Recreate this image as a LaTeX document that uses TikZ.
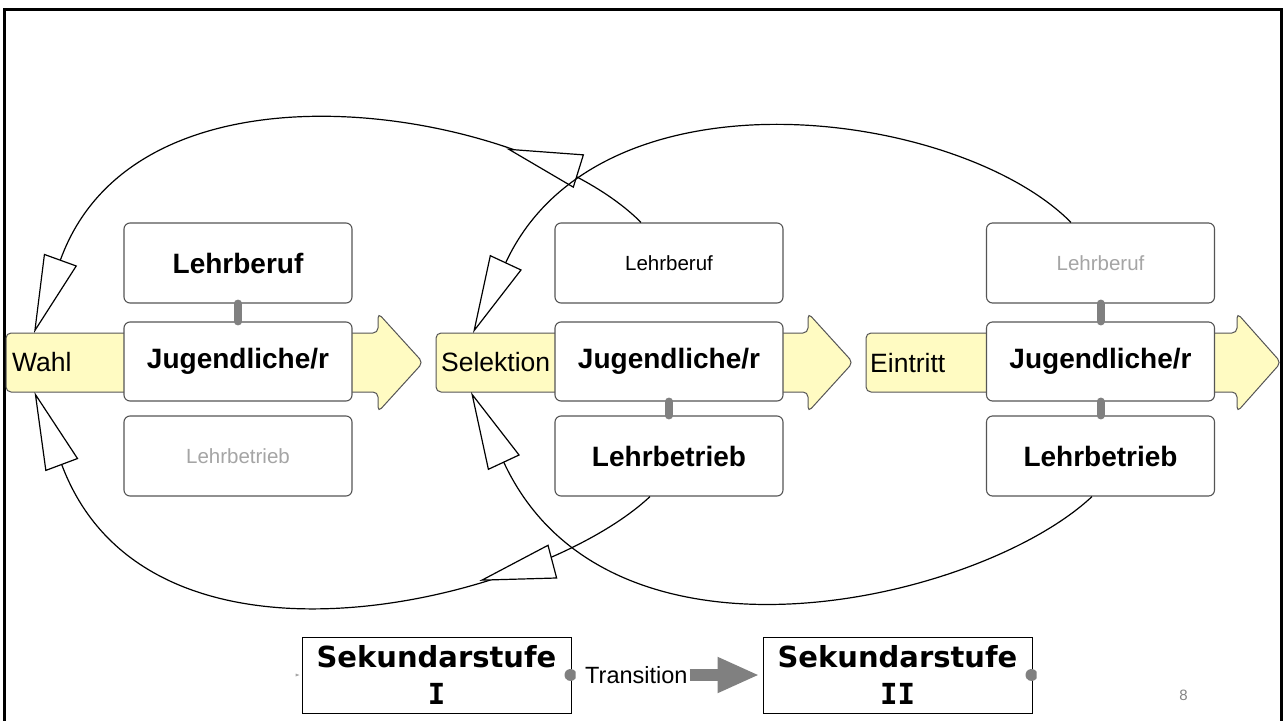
\documentclass[tikz,border=0pt]{standalone}
\usepackage{fontspec}
\setmainfont{Liberation Sans}
\newfontfamily\dvsans{DejaVu Sans}
\newfontfamily\dvmono{DejaVu Sans Mono}
\usetikzlibrary{arrows.meta,decorations.markings,calc}
\definecolor{yel}{RGB}{255,251,194}
\definecolor{bord}{RGB}{85,85,85}
\definecolor{ltxt}{RGB}{165,165,165}
\definecolor{bargray}{RGB}{128,128,128}
\begin{document}
\begin{tikzpicture}[x=1pt,y=-1pt,
  box/.style={draw=bord, line width=1.1pt, rounded corners=6pt, fill=white,
    minimum width=228pt, minimum height=80pt, inner sep=0pt},
  big/.style={font=\fontsize{28}{32}\selectfont\bfseries},
  small/.style={font=\fontsize{20.5}{24}\selectfont},
  faint/.style={small, text=ltxt},
  yarr/.style={draw=bord, line width=1pt, fill=yel, rounded corners=5pt},
  ylbl/.style={font=\fontsize{26.5}{30}\selectfont, anchor=west, inner sep=0pt},
  link/.style={draw=bargray, line width=8pt, line cap=round},
  loopline/.style={draw=black, line width=1.2pt},
  tri/.style={-{Triangle[fill=white, length=78pt, width=35pt]}},
  midarrow/.style={postaction={decorate}, decoration={markings,
    mark=at position #1 with {\arrow{Triangle[fill=white, length=76pt, width=35pt]}}}},
  sek/.style={draw=black, line width=1pt, minimum width=269pt, minimum height=76pt,
    inner sep=0pt, align=center, font=\dvsans\fontsize{29}{37}\selectfont\bfseries},
]
\useasboundingbox (0,0) rectangle (1284,720);
\fill[white] (0,0) rectangle (1284,720);

% frame
\draw[line width=2.5pt] (4.5,730) -- (4.5,9.5) -- (1281.5,9.5) -- (1281.5,730);

% yellow arrows
\draw[yarr] (6,333) -- (378,333) -- (378,313) -- (423,362.5) -- (378,412) -- (378,392) -- (6,392) -- cycle;
\draw[yarr] (436,333) -- (808,333) -- (808,313) -- (853,362.5) -- (808,412) -- (808,392) -- (436,392) -- cycle;
\draw[yarr] (866,333) -- (1237,333) -- (1237,313) -- (1281,362.5) -- (1237,412) -- (1237,392) -- (866,392) -- cycle;

\node[ylbl] (wahl) at (12,362.5) {Wahl};
\node[ylbl] (sel) at (441,362.5) {Selektion};
\node[ylbl] (ein) at (870,362.5) {Eintritt};

% boxes
\node[box, big] (lb1) at (238,263) {Lehrberuf};
\node[box, big, minimum height=79pt] (jd1) at (238,361.5) {Jugendliche/r};
\node[box, faint] (lt1) at (238,456) {Lehrbetrieb};
\node[box, small] (lb2) at (669,263) {Lehrberuf};
\node[box, big, minimum height=79pt] (jd2) at (669,361.5) {Jugendliche/r};
\node[box, big] (lt2) at (669,456) {Lehrbetrieb};
\node[box, faint] (lb3) at (1100.5,263) {Lehrberuf};
\node[box, big, minimum height=79pt] (jd3) at (1100.5,361.5) {Jugendliche/r};
\node[box, big] (lt3) at (1100.5,456) {Lehrbetrieb};

% links
\draw[link] (lb1.south) -- (jd1.north);
\draw[link] (jd2.south) -- (lt2.north);
\draw[link] (lb3.south) -- (jd3.north);
\draw[link] (jd3.south) -- (lt3.north);

% loop end points
\coordinate (wahlN) at (34,333);
\coordinate (wahlS) at (34.5,392);
\coordinate (selN) at (473,333);
\coordinate (selS) at (471,392);

% loops
\draw[loopline, tri, midarrow=155pt] ([xshift=-28pt]lb2.north) .. controls (530,110) and (140,40) .. (wahlN);
\draw[loopline, tri, midarrow=192pt] ([xshift=-19pt]lt2.south) .. controls (540,600) and (150,700) .. (wahlS);
\draw[loopline, tri] ([xshift=-29.5pt]lb3.north) .. controls (960,110) and (600,60) .. (selN);
\draw[loopline, tri] ([xshift=-8.5pt]lt3.south) .. controls (982,600) and (610,690) .. (selS);

% bottom
\node[sek] (sek1) at (436.5,675) {Sekundarstufe\\{\dvmono\bfseries I}};
\node[sek] (sek2) at (897.5,675) {Sekundarstufe\\{\dvmono\bfseries II}};
\node[font=\fontsize{23.5}{27}\selectfont, anchor=west, inner sep=2pt] (trans) at (583,675) {Transition};
\draw[draw=bargray, line width=12pt, -{Triangle[length=42pt, width=33pt]}, shorten >=3pt] (trans.east) -- (sek2.west);
\fill[bargray] ([xshift=-1pt]sek1.east) ++(33.6:6pt) arc[start angle=33.6, end angle=326.4, radius=6pt] -- cycle;
\fill[bargray] ([xshift=-1pt]sek2.east) ++(33.6:6pt) arc[start angle=33.6, end angle=326.4, radius=6pt] -- cycle;
\fill[bargray!70] ([xshift=-6pt,yshift=1.5pt]sek1.west) -- ([xshift=-2pt]sek1.west) -- ([xshift=-6pt,yshift=-1.5pt]sek1.west) -- cycle;

\node[font=\fontsize{15}{18}\selectfont, text=ltxt!80!black] (pg) at (1183.5,695) {8};
\end{tikzpicture}
\end{document}
